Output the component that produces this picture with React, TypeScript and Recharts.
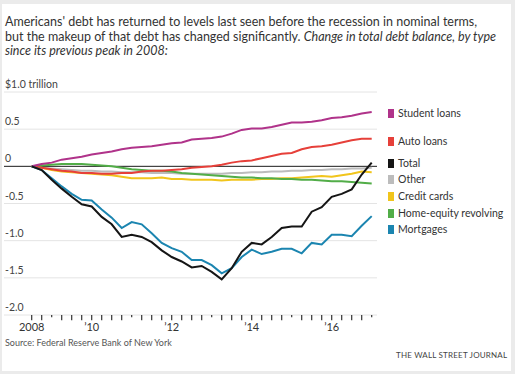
import { CartesianGrid, Line, LineChart, ReferenceLine, XAxis, YAxis } from "recharts";

// quarters since the 2008 peak
const quarters = [
  "2008Q3", "2008Q4", "2009Q1", "2009Q2", "2009Q3", "2009Q4", "2010Q1", "2010Q2", "2010Q3",
  "2010Q4", "2011Q1", "2011Q2", "2011Q3", "2011Q4", "2012Q1", "2012Q2", "2012Q3", "2012Q4",
  "2013Q1", "2013Q2", "2013Q3", "2013Q4", "2014Q1", "2014Q2", "2014Q3", "2014Q4", "2015Q1",
  "2015Q2", "2015Q3", "2015Q4", "2016Q1", "2016Q2", "2016Q3", "2016Q4", "2017Q1",
];

// change in balance, $ trillion
const studentLoans = [0, 0.03, 0.05, 0.09, 0.11, 0.13, 0.16, 0.18, 0.2, 0.23, 0.25, 0.26, 0.27, 0.29, 0.31, 0.32, 0.36, 0.37, 0.38, 0.4, 0.44, 0.49, 0.51, 0.51, 0.53, 0.56, 0.59, 0.59, 0.6, 0.62, 0.65, 0.66, 0.68, 0.71, 0.73];
const autoLoans = [0, -0.02, -0.04, -0.06, -0.07, -0.09, -0.09, -0.1, -0.1, -0.09, -0.09, -0.07, -0.06, -0.06, -0.05, -0.04, -0.02, -0.01, 0, 0.02, 0.05, 0.07, 0.08, 0.11, 0.14, 0.17, 0.18, 0.23, 0.26, 0.27, 0.29, 0.32, 0.35, 0.37, 0.37];
const total = [0, -0.05, -0.18, -0.3, -0.41, -0.51, -0.54, -0.68, -0.78, -0.95, -0.92, -0.95, -1.02, -1.13, -1.22, -1.28, -1.36, -1.34, -1.42, -1.52, -1.37, -1.15, -1.03, -1.05, -0.95, -0.83, -0.81, -0.81, -0.61, -0.55, -0.41, -0.37, -0.31, -0.11, 0.05];
const other = [0, -0.02, -0.03, -0.04, -0.05, -0.06, -0.06, -0.07, -0.07, -0.08, -0.08, -0.08, -0.09, -0.09, -0.09, -0.1, -0.1, -0.1, -0.1, -0.1, -0.09, -0.09, -0.08, -0.08, -0.07, -0.07, -0.06, -0.06, -0.05, -0.05, -0.04, -0.04, -0.03, -0.03, -0.02];
const creditCards = [0, -0.02, -0.05, -0.07, -0.08, -0.09, -0.1, -0.11, -0.12, -0.14, -0.16, -0.16, -0.16, -0.15, -0.17, -0.17, -0.18, -0.18, -0.18, -0.19, -0.18, -0.18, -0.18, -0.17, -0.17, -0.16, -0.16, -0.15, -0.14, -0.13, -0.14, -0.12, -0.1, -0.07, -0.08];
const homeEquity = [0, 0.01, 0.02, 0.03, 0.03, 0.03, 0.02, 0.01, 0, -0.02, -0.04, -0.05, -0.06, -0.06, -0.07, -0.09, -0.1, -0.11, -0.12, -0.13, -0.14, -0.15, -0.15, -0.16, -0.16, -0.17, -0.17, -0.18, -0.18, -0.19, -0.2, -0.2, -0.21, -0.22, -0.23];
const mortgages = [0, -0.05, -0.16, -0.27, -0.37, -0.45, -0.46, -0.58, -0.69, -0.83, -0.75, -0.78, -0.9, -1.03, -1.1, -1.15, -1.26, -1.26, -1.33, -1.44, -1.37, -1.22, -1.12, -1.18, -1.15, -1.11, -1.11, -1.17, -1.03, -1.05, -0.92, -0.92, -0.94, -0.8, -0.67];

const yTicks = [-2, -1.5, -1, -0.5, 0, 0.5, 1];
const xLabels: [number, string][] = [[2008.5, "2008"], [2010, "’10"], [2012, "’12"], [2014, "’14"], [2016, "’16"]];

const series = [
  { key: "other", name: "Other", color: "#bcbcbc", values: other, legendY: 179 },
  { key: "creditCards", name: "Credit cards", color: "#f1c51c", values: creditCards, legendY: 196 },
  { key: "homeEquity", name: "Home-equity revolving", color: "#52ad48", values: homeEquity, legendY: 213 },
  { key: "autoLoans", name: "Auto loans", color: "#e6403a", values: autoLoans, legendY: 141 },
  { key: "studentLoans", name: "Student loans", color: "#b0338a", values: studentLoans, legendY: 113 },
  { key: "mortgages", name: "Mortgages", color: "#1b85b0", values: mortgages, legendY: 229 },
  { key: "total", name: "Total", color: "#151515", values: total, legendY: 163 },
];

const legendOrder = ["studentLoans", "autoLoans", "total", "other", "creditCards", "homeEquity", "mortgages"];

const toYear = (q: string) => Number(q.slice(0, 4)) + (Number(q.slice(5)) - 1) / 4;

const data = quarters.map((q, i) => {
  const row: Record<string, number> = { t: toYear(q) };
  series.forEach((s) => (row[s.key] = s.values[i]));
  return row;
});

const FONT = "Lato, 'Open Sans', sans-serif";

const XTick = ({ x, y, payload }: any) => {
  const label = xLabels.find((l) => l[0] === payload.value);
  if (!label) return <g />;
  return (
    <text x={x} y={y + 10} textAnchor="middle" fontSize={11} fill="#333" fontFamily={FONT}>
      {label[1]}
    </text>
  );
};

const YTick = ({ y, payload }: any) => {
  const v = payload.value as number;
  const label = v === 1 ? "$1.0 trillion" : v === 0 ? "0" : v.toFixed(1);
  return (
    <text x={5} y={y - 4} textAnchor="start" fontSize={10.5} fill="#444" fontFamily={FONT}>
      {label}
    </text>
  );
};

export default function App() {
  return (
    <div style={{ width: 515, height: 374, background: "#ebebeb", position: "relative", fontFamily: FONT }}>
      <style>{`body{margin:0}`}</style>
      <div style={{ position: "absolute", left: 2, top: 4, width: 509, height: 367, background: "#fff" }} />
      <div style={{ position: "absolute", left: 5, top: 15, fontSize: 12.5, lineHeight: "14.5px", color: "#333", width: 505 }}>
        Americans' debt has returned to levels last seen before the recession in nominal terms,
        <br />
        but the makeup of that debt has changed significantly. <i>Change in total debt balance, by type</i>
        <br />
        <i>since its previous peak in 2008:</i>
      </div>
      <div style={{ position: "absolute", left: 0, top: 0 }}>
        <LineChart width={515} height={374} data={data} margin={{ top: 92, right: 138, bottom: 39, left: -26 }}>
          <CartesianGrid vertical={false} stroke="#e4e4e4" />
          <XAxis
            type="number"
            dataKey="t"
            domain={[2007.8075, 2017.1325]}
            ticks={data.map((d) => d.t)}
            interval={0}
            tick={<XTick />}
            tickLine={false}
            axisLine={false}
            tickSize={5}
            tickMargin={1}
            height={20}
          />
          <YAxis
            type="number"
            domain={[-2, 1]}
            ticks={yTicks}
            interval={0}
            tick={<YTick />}
            tickLine={false}
            axisLine={false}
            width={30}
          />
          {data.map((d) => {
            const short = Number.isInteger(d.t) && d.t % 2 === 1;
            return (
              <ReferenceLine
                key={d.t}
                segment={[{ x: d.t, y: -2 }, { x: d.t, y: short ? -2.03 : -2.07 }]}
                stroke="#333"
                strokeWidth={1.2}
                ifOverflow="visible"
              />
            );
          })}
          <ReferenceLine y={0} stroke="#222" strokeWidth={1} />
          {series.map((s) => (
            <Line
              key={s.key}
              dataKey={s.key}
              stroke={s.color}
              strokeWidth={2}
              dot={false}
              type="linear"
              isAnimationActive={false}
            />
          ))}
        </LineChart>
      </div>
      {legendOrder.map((k) => {
        const s = series.find((x) => x.key === k)!;
        return (
          <div key={k} style={{ position: "absolute", left: 388, top: s.legendY - 7, height: 14, display: "flex", alignItems: "center", fontSize: 10.5, color: "#333", whiteSpace: "nowrap" }}>
            <span style={{ display: "inline-block", width: 6, height: 9, background: s.color, marginRight: 4 }} />
            {s.name}
          </div>
        );
      })}
      <div style={{ position: "absolute", left: 5, top: 337, fontSize: 9, color: "#555", whiteSpace: "nowrap" }}>Source: Federal Reserve Bank of New York</div>
      <div style={{ position: "absolute", left: 396, top: 350, fontSize: 8, color: "#444", letterSpacing: 0.2, whiteSpace: "nowrap" }}>THE WALL STREET JOURNAL</div>
    </div>
  );
}
